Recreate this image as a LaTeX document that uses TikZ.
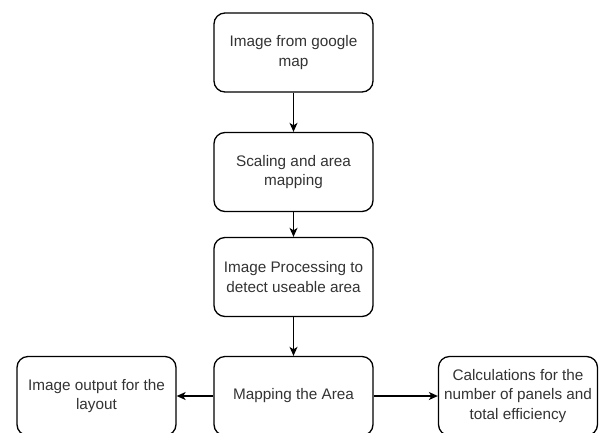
\documentclass[tikz,border=0pt]{standalone}
\usepackage{fontspec}
\setmainfont{Liberation Sans}
\usetikzlibrary{arrows.meta}
\definecolor{txt}{HTML}{333333}
\tikzset{
  box/.style={draw=black, line width=1.3pt, rounded corners=11pt, minimum width=159pt, minimum height=79pt, inner sep=0pt, align=center, text=txt, font=\fontsize{15.3}{19.5}\selectfont},
  conn/.style={draw=black, line width=1.3pt, -{Stealth[length=9pt,width=8pt,inset=2.5pt]}}
}
\begin{document}
\begin{tikzpicture}[x=1pt,y=-1pt]
\useasboundingbox (0,0) rectangle (599,432);
\clip (0,0) rectangle (599,432);
\node[box] (n1) at (293.5,52.5) {Image from google\\map};
\node[box] (n2) at (293.5,172) {Scaling and area\\mapping};
\node[box] (n3) at (293.5,277) {Image Processing to\\detect useable area};
\node[box] (n4) at (293.5,396) {Mapping the Area};
\node[box] (l) at (96.5,396) {Image output for the\\layout};
\node[box] (r) at (518,396) {Calculations for the\\number of panels and\\total efficiency};
\draw[conn] (n1) -- (n2);
\draw[conn] (n2) -- (n3);
\draw[conn] (n3) -- (n4);
\draw[conn] (n4) -- (l);
\draw[conn] (n4) -- (r);
\end{tikzpicture}
\end{document}
